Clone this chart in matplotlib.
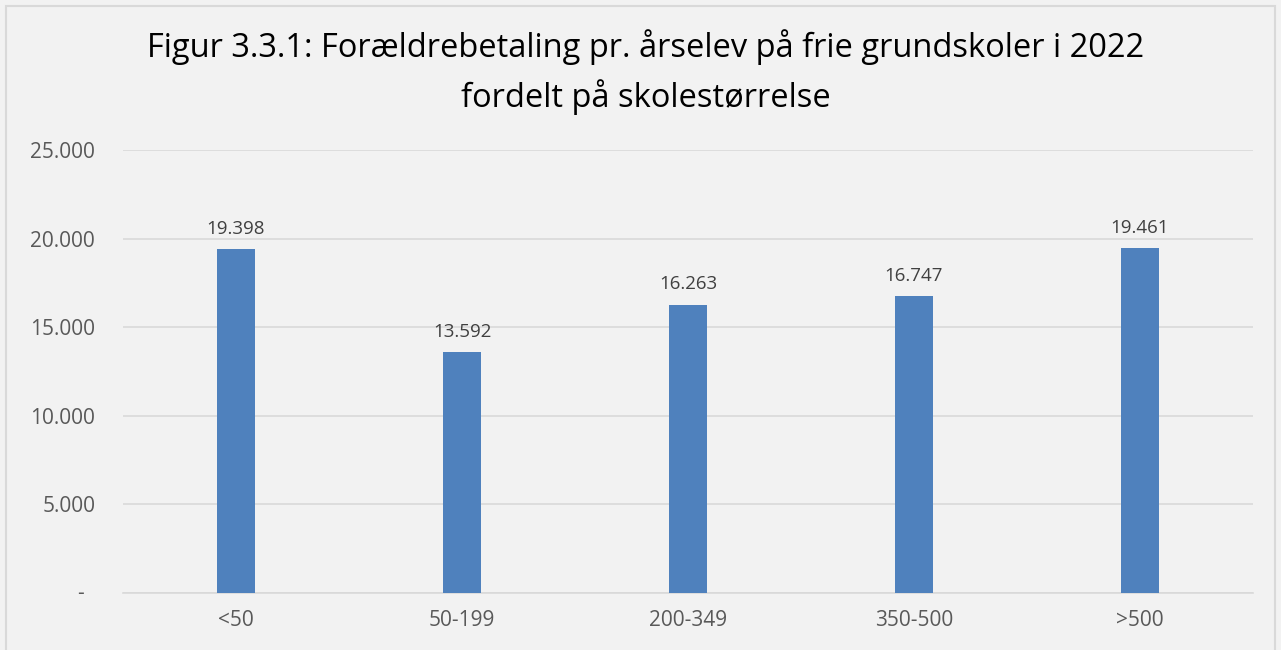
import numpy as np
import matplotlib.pyplot as plt
import matplotlib.transforms as mtransforms
from matplotlib.patches import Rectangle

kategorier = ["<50", "50-199", "200-349", "350-500", ">500"]
betaling = [19398, 13592, 16263, 16747, 19461]
y_ticks = [0, 5000, 10000, 15000, 20000, 25000]

def dk(v):
    # dansk tusindtalsseparator, 0 vises som "-"
    if v == 0:
        return "-"
    return f"{v:,.0f}".replace(",", ".")

plt.rcParams['font.family'] = ['Open Sans', 'DejaVu Sans']

fig = plt.figure(figsize=(12.81, 6.5), dpi=100)
fig.patch.set_facecolor("#f2f2f2")
# ramme om diagrammet
fig.patches.append(Rectangle((6/1281, -0.01), 1269/1281, 1 - 6/650 + 0.01,
                             transform=fig.transFigure, fill=False,
                             edgecolor="#d9d9d9", linewidth=1.5))

ax = fig.add_axes([123/1281, 57/650, 1130/1281, 443/650])
ax.set_facecolor("#f2f2f2")

x = np.arange(len(kategorier))
ax.bar(x, betaling, width=0.17, color="#4f81bd", zorder=3)
for xi, v in zip(x, betaling):
    ax.text(xi, v + 650, dk(v), ha="center", va="bottom",
            fontsize=13.5, color="#404040")

ax.set_xlim(-0.5, len(kategorier) - 0.5)
ax.set_ylim(0, 25000)
ax.set_yticks(y_ticks)
# "-" for nul skrives for sig, lidt længere inde som i Excel
ax.set_yticklabels(["" if v == 0 else dk(v) for v in y_ticks])
trans = mtransforms.blended_transform_factory(ax.transAxes, ax.transData)
ax.text(-0.035, y_ticks[0], dk(y_ticks[0]), transform=trans, ha="right", va="center",
        fontsize=15, color="#595959")
ax.set_xticks(x)
ax.set_xticklabels(kategorier)
ax.tick_params(axis="both", length=0, labelsize=15, colors="#595959")
ax.tick_params(axis="y", pad=20)
ax.tick_params(axis="x", pad=12)
ax.yaxis.grid(True, color="#d9d9d9", linewidth=1.2, zorder=0)
for s in ["top", "right", "left"]:
    ax.spines[s].set_visible(False)
ax.spines["bottom"].set_color("#d9d9d9")
ax.spines["bottom"].set_linewidth(1.2)

fig.text(0.504, 1 - 72/650, "Figur 3.3.1: Forældrebetaling pr. årselev på frie grundskoler i 2022\nfordelt på skolestørrelse",
         ha="center", va="center", fontsize=23.5, color="black", linespacing=1.5)

plt.savefig("out.png", dpi=100, facecolor=fig.get_facecolor())
